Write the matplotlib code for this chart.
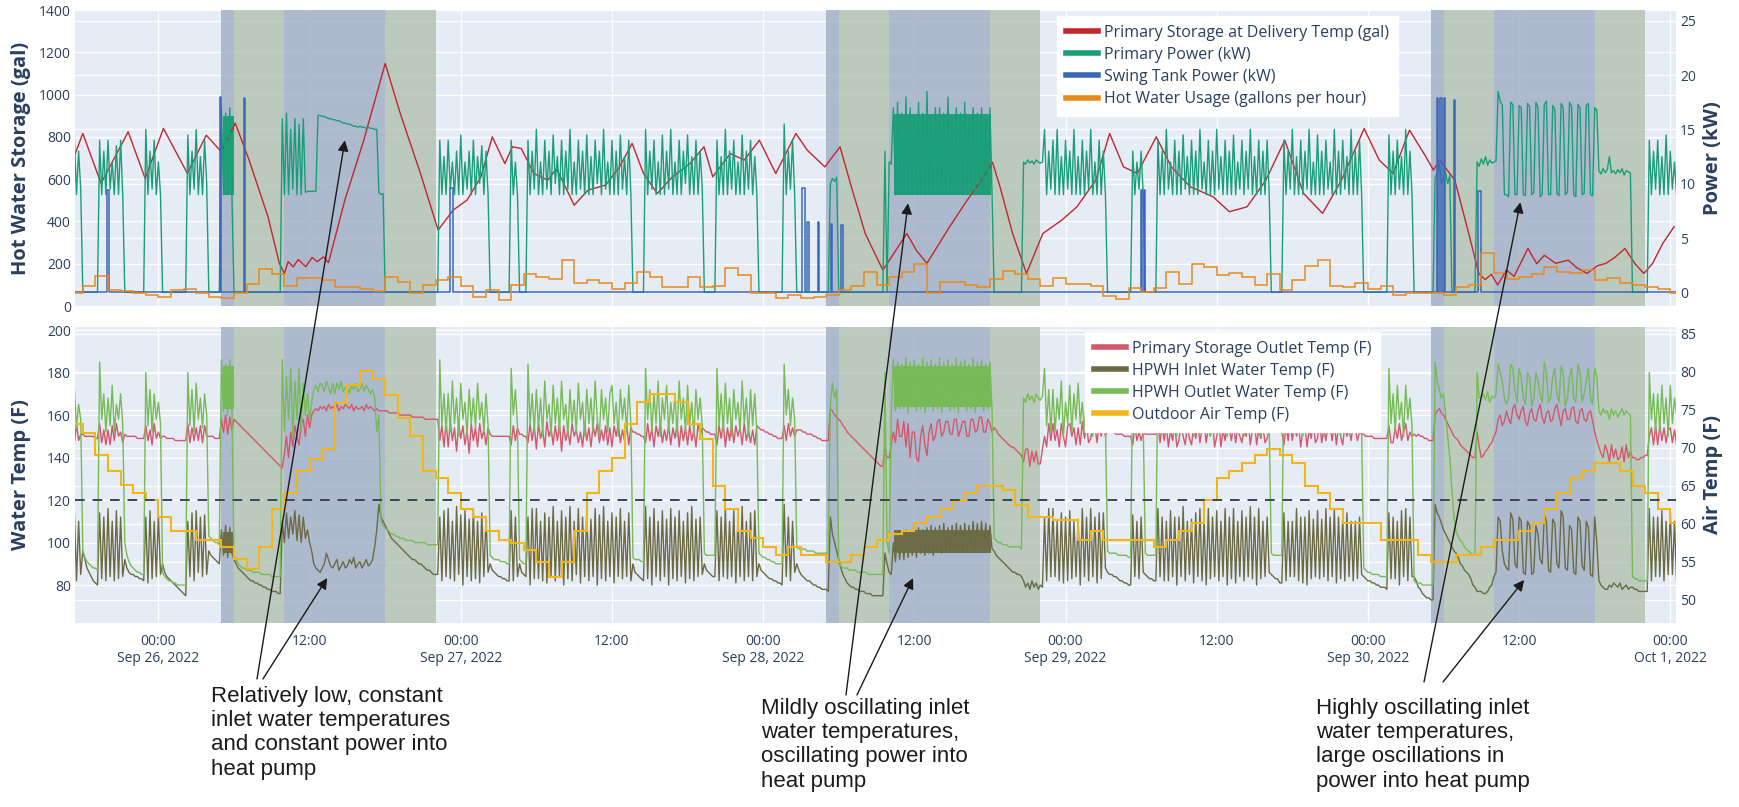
import numpy as np
import matplotlib
matplotlib.use("Agg")
import matplotlib.pyplot as plt
import matplotlib.dates as mdates
from matplotlib.lines import Line2D
from matplotlib.ticker import FuncFormatter
from matplotlib.transforms import blended_transform_factory
from datetime import datetime

START = datetime(2022, 9, 25, 17, 0)   # first sample of every series
STEP_MIN = 10                           # spacing of the 10-minute series

# ---------------- top panel ----------------
# primary storage at delivery temp (gal), read at irregular hours after START
storage_hours = [0.4, 1.0, 2.45, 4.6, 5.95, 7.4, 9.3, 10.8, 12.0, 13.1,
                 14.2, 15.7, 16.6, 17.0, 17.3, 17.7, 18.1, 18.7, 19.2, 19.6,
                 20.1, 20.5, 21.8, 23.3, 25.0, 26.2, 27.8, 29.2, 30.4, 31.5,
                 32.6, 33.5, 34.5, 35.1, 35.8, 36.8, 37.9, 38.6, 40.0, 41.1,
                 42.5, 43.6, 44.6, 45.5, 46.6, 47.8, 49.2, 50.3, 51.0, 52.4,
                 53.5, 54.7, 56.0, 57.6, 58.5, 59.9, 61.1, 62.0, 63.1, 64.5,
                 65.2, 66.4, 67.2, 68.0, 69.8, 71.2, 72.5, 73.2, 73.8, 74.8,
                 75.9, 77.2, 78.7, 79.9, 81.4, 82.5, 83.6, 84.7, 86.2, 87.4,
                 88.9, 90.7, 92.0, 93.4, 94.9, 96.4, 97.9, 99.4, 100.9, 102.7,
                 103.9, 105.0, 106.3, 107.6, 108.2, 108.7, 109.9, 111.0, 111.8, 112.3,
                 112.8, 113.3, 114.0, 114.6, 115.7, 116.4, 117.0, 117.9, 118.9, 119.6,
                 120.4, 121.2, 121.9, 122.6, 123.4, 124.2, 124.9, 125.6, 126.4, 127.3]
storage_gal = [721, 816, 580, 824, 603, 840, 627, 808, 729, 865,
               690, 422, 202, 154, 210, 185, 220, 186, 230, 210,
               232, 205, 501, 784, 1147, 910, 627, 359, 454, 501,
               611, 800, 674, 753, 745, 627, 595, 650, 477, 548,
               572, 658, 769, 627, 532, 611, 674, 753, 611, 721,
               690, 784, 627, 816, 737, 658, 753, 564, 343, 170,
               233, 343, 260, 202, 375, 501, 610, 680, 564, 343,
               154, 343, 406, 469, 595, 816, 658, 627, 800, 658,
               564, 517, 446, 469, 595, 784, 532, 438, 595, 839,
               690, 627, 832, 706, 643, 690, 595, 343, 154, 125,
               150, 100, 170, 140, 272, 200, 240, 202, 217, 180,
               154, 190, 202, 230, 272, 200, 154, 202, 296, 375]

# primary power (kW), every 10 minutes, one row = 3 hours
primary_kw = [
    12, 9, 14, 9, 13, 9.5, 0, 0, 0, 0, 0, 0, 0, 0, 14, 9, 13, 9,
    14, 9.5, 12, 9, 13.5, 9, 14, 9, 0, 0, 0, 0, 0, 0, 0, 0, 0, 0,
    15, 9, 13, 9.5, 14, 9, 12, 9, 0, 0, 0, 0, 0, 0, 0, 0, 0, 0,
    0, 0, 14.5, 9, 13, 9.5, 15, 9, 12.5, 9, 14, 10, 0, 0, 0, 0, 0, 0,
    17, 9, 16.5, 9, 17, 9, 0, 0, 0, 0, 0, 0, 0, 0, 0, 0, 0, 0,
    0, 0, 0, 0, 0, 0, 0, 0, 0, 0, 0, 16, 9, 16.5, 9, 15, 9.5, 16,
    9, 15.5, 9, 16, 9.2, 9.3, 9.3, 9.3, 9.3, 9.3, 16.3, 16.3, 16.2, 16.2, 16.1, 16.0, 16.0, 15.9,
    15.9, 15.8, 15.8, 15.7, 15.6, 15.6, 15.5, 15.5, 15.4, 15.3, 15.3, 15.2, 15.3, 15.2, 15.2, 15.1, 15.2, 15.1,
    15.1, 15.0, 15.0, 9.2, 9.0, 9.1, 0, 0, 0, 0, 0, 0, 0, 0, 0, 0, 0, 0,
    0, 0, 0, 0, 0, 0, 0, 0, 0, 0, 0, 0, 0, 0, 14, 9, 12.5, 9,
    14, 9.5, 12, 9, 13, 9, 14.5, 9, 12, 9.5, 13, 9, 14, 9, 12.5, 10, 13.5, 9,
    13, 9, 0, 0, 0, 0, 0, 0, 0, 0, 0, 0, 14, 9, 12, 9, 0, 0,
    0, 0, 14, 9, 13, 9.5, 15, 9, 12, 9, 14, 9.5, 13, 9, 14.5, 10, 12.5, 9,
    14, 9, 13, 9.5, 15, 9, 12, 9, 14, 9.5, 13, 9, 14.5, 9, 12.5, 9, 14, 10,
    13, 9, 15, 9.5, 12, 9, 14, 9, 13, 9, 14.5, 9.5, 12.5, 9, 14, 9, 0, 0,
    0, 0, 0, 0, 15, 9, 13, 9.5, 14, 9, 12, 9, 14.5, 9, 13, 9.5, 15, 9,
    12, 9, 14, 9, 13, 10, 14.5, 9, 12.5, 9, 14, 9, 13, 9.5, 0, 0, 0, 0,
    0, 0, 14, 9, 12.5, 9, 15, 9, 13, 9.5, 14, 9, 12, 9, 14.5, 9, 13, 9.5,
    14, 9, 12.5, 9, 0, 0, 0, 0, 0, 0, 0, 0, 0, 0, 0, 0, 15.5, 9,
    13, 9.5, 14, 9, 0, 0, 0, 0, 0, 0, 0, 0, 0, 0, 0, 0, 0, 0,
    0, 0, 10, 10.5, 10.2, 10.6, 0, 0, 0, 0, 0, 0, 0, 0, 0, 0, 0, 0,
    0, 0, 0, 0, 0, 0, 0, 0, 0, 0, 13, 0, 12, 11.8, 17, 9, 17.5, 9,
    16.5, 9, 18, 9, 17, 9, 16, 9, 17.5, 9, 16.5, 9, 18.5, 9, 16, 9, 17, 9,
    17, 9, 16.5, 9, 18, 9, 16, 9, 17, 9, 16.5, 9, 17.5, 9, 16, 9, 17, 9,
    16.5, 9, 17, 9, 16, 9, 17, 9, 0, 0, 0, 0, 0, 0, 0, 0, 0, 0,
    0, 0, 0, 0, 12, 11.8, 12.2, 11.9, 12.1, 11.8, 12.2, 12, 11.9, 12, 15, 9, 13, 9.5,
    14, 9, 15, 9, 12.5, 9, 14, 9.5, 13, 9, 15, 9, 12.5, 9, 14, 9, 13, 9.5,
    15, 9, 12, 9, 14, 9, 13, 9, 0, 0, 0, 0, 0, 0, 0, 0, 0, 0,
    0, 0, 13, 9, 12, 9.5, 13, 9, 0, 0, 0, 0, 0, 0, 14, 9, 13, 9,
    15, 9.5, 12, 9, 14, 9, 13, 9, 14.5, 9.5, 12.5, 9, 14, 9, 13, 9, 15, 9.5,
    12, 9, 14, 9, 13, 9, 15, 9.5, 12.5, 9, 14, 9, 13, 9, 14.5, 9, 12, 9.5,
    14, 9, 13, 9.5, 15, 9, 12.5, 9, 14, 9, 13, 9, 14, 9, 0, 0, 0, 0,
    0, 0, 14, 9, 13, 9.5, 15, 9, 12.5, 9, 14, 9, 13, 9.5, 15, 9, 12, 9,
    14.5, 9, 13, 9, 14, 9.5, 12, 9, 15, 9, 13, 9, 14, 9.5, 12.5, 9, 15, 9,
    13, 9, 14, 9, 0, 0, 0, 0, 0, 0, 0, 0, 0, 0, 0, 0, 14.5, 9,
    13, 9, 14, 9.5, 12.5, 9, 15, 9, 13, 9, 0, 0, 0, 0, 0, 0, 0, 0,
    0, 0, 10.5, 11, 12, 10, 10.5, 11, 10, 10.8, 0, 0, 0, 0, 0, 0, 0, 0,
    0, 0, 0, 0, 12, 11.6, 12.3, 11.8, 12.5, 11.7, 12.2, 11.9, 12, 12.1, 18.5, 17.6, 17.2, 9,
    9, 8.8, 17.5, 17.3, 9, 9, 17.2, 17, 9, 8.9, 17.4, 17.1, 9, 9.2, 17.5, 17, 8.8, 9,
    17.3, 17.6, 9, 9, 17.2, 16.9, 9.1, 8.9, 17.4, 17, 9, 9.2, 17.5, 17.1, 9, 8.8, 17.3, 17,
    9, 9.1, 17.2, 17.4, 9, 8.9, 17, 16.8, 11.2, 10.9, 11.4, 11, 11.3, 12.5, 11, 11.2, 10.9, 11.3,
    11, 11.4, 10.8, 11.2, 11.1, 11, 0, 0, 0, 0, 0, 0, 0, 0, 14, 9, 13, 9.5,
    14, 9, 12.5, 9, 14.5, 9, 13, 9.5, 12, 9, 14, 9,
]

# swing tank heater pulses: on hour, off hour, kW
swing_on = [2.9, 11.85, 13.8, 30.15, 58.1, 58.5, 59.35, 60.35, 61.2,
            85.0, 85.2, 108.5, 108.75, 109.05, 109.85, 111.7]
swing_off = [3.1, 11.95, 13.9, 30.4, 58.35, 58.6, 59.45, 60.45, 61.3,
             85.1, 85.3, 108.6, 108.85, 109.15, 109.95, 112.0]
swing_kw = [9.4, 18.0, 17.9, 9.6, 9.6, 6.5, 6.5, 6.3, 6.2,
            9.4, 9.4, 17.9, 17.9, 17.9, 17.7, 9.3]

# hot water usage (gallons per hour), hourly from START
usage_gph = [60, 94, 142, 76, 72, 62, 52, 44, 76, 79, 60, 44,
             39, 60, 104, 173, 151, 94, 134, 134, 123, 91, 91, 79,
             70, 139, 115, 60, 99, 123, 139, 94, 44, 76, 28, 99,
             151, 139, 126, 217, 107, 123, 110, 82, 107, 162, 135, 88,
             88, 139, 88, 94, 178, 146, 60, 60, 36, 52, 39, 44,
             52, 76, 94, 162, 99, 139, 162, 197, 60, 115, 112, 99,
             91, 126, 165, 150, 126, 94, 131, 104, 104, 94, 47, 33,
             87, 68, 87, 162, 102, 200, 186, 146, 154, 139, 99, 151,
             76, 123, 190, 217, 94, 88, 110, 79, 94, 52, 60, 60,
             62, 52, 91, 99, 249, 154, 129, 139, 151, 186, 162, 154,
             170, 123, 131, 107, 99, 88, 79, 60]

# ---------------- bottom panel ----------------
# primary storage outlet temp (F), every 10 minutes
outlet_f = [
    150, 155, 147, 156, 148, 151, 151, 150, 150, 150, 150, 150, 149, 149, 156, 147, 153, 146,
    153, 146, 155, 148, 156, 150, 152, 147, 151, 150, 150, 150, 150, 150, 149, 149, 149, 149,
    155, 148, 153, 146, 156, 149, 152, 149, 150, 150, 149, 149, 149, 149, 148, 148, 148, 148,
    148, 148, 156, 147, 154, 148, 154, 148, 155, 147, 155, 150, 150, 150, 150, 149, 149, 149,
    158, 152, 160, 151, 159, 153, 158, 157, 156, 155, 154, 153, 152, 151, 150, 149, 148, 147,
    146, 145, 144, 143, 142, 141, 140, 139, 138, 137, 136, 135, 142, 150, 140, 152, 145, 155,
    150, 146, 156, 158, 150, 160, 154, 160, 162, 163, 162, 164, 163, 164, 162, 165, 163, 164,
    163, 165, 162, 164, 163, 165, 164, 163, 165, 162, 164, 163, 163, 164, 162, 165, 163, 164,
    163, 162, 163, 162, 162, 162, 162, 162, 161, 161, 161, 161, 161, 160, 160, 160, 160, 160,
    160, 159, 159, 159, 159, 159, 159, 158, 158, 158, 158, 158, 158, 158, 148, 155, 145, 157,
    145, 157, 148, 154, 143, 156, 149, 155, 146, 153, 142, 156, 148, 154, 145, 156, 149, 153,
    146, 154, 151, 150, 150, 150, 150, 150, 150, 150, 150, 150, 146, 155, 148, 154, 151, 151,
    150, 150, 147, 156, 148, 155, 144, 156, 149, 153, 145, 157, 150, 154, 146, 155, 148, 156,
    143, 155, 148, 153, 146, 156, 150, 153, 147, 152, 145, 156, 148, 154, 145, 155, 150, 156,
    147, 153, 148, 155, 146, 154, 145, 155, 150, 156, 147, 153, 148, 155, 146, 154, 152, 152,
    151, 151, 150, 150, 147, 156, 148, 154, 145, 155, 150, 156, 147, 153, 148, 155, 146, 154,
    149, 156, 145, 155, 148, 154, 146, 155, 148, 153, 145, 156, 150, 154, 153, 152, 152, 151,
    151, 151, 146, 155, 149, 156, 145, 154, 148, 156, 147, 155, 150, 154, 146, 156, 148, 153,
    147, 153, 146, 155, 154, 153, 153, 152, 152, 151, 151, 150, 150, 149, 149, 149, 155, 148,
    156, 150, 154, 150, 153, 153, 153, 152, 152, 151, 151, 151, 150, 150, 149, 149, 148, 148,
    148, 148, 163, 162, 160, 159, 158, 157, 155, 154, 152, 151, 150, 149, 148, 147, 146, 145,
    144, 143, 142, 141, 140, 139, 138, 137, 136, 136, 145, 140, 140, 146, 152, 147, 158, 150,
    150, 157, 145, 156, 140, 152, 152, 140, 138, 150, 155, 146, 141, 152, 156, 148, 150, 157,
    158, 150, 152, 157, 157, 151, 151, 158, 158, 150, 153, 157, 157, 150, 150, 158, 158, 152,
    153, 159, 159, 152, 152, 158, 156, 152, 154, 153, 151, 150, 149, 148, 147, 146, 145, 145,
    144, 143, 142, 141, 138, 144, 144, 136, 143, 138, 143, 137, 137, 144, 150, 145, 156, 148,
    156, 148, 153, 145, 156, 150, 145, 155, 156, 150, 154, 146, 154, 146, 157, 149, 155, 147,
    149, 155, 155, 147, 156, 150, 156, 150, 153, 152, 152, 152, 151, 151, 151, 151, 150, 150,
    150, 150, 146, 155, 148, 152, 148, 152, 151, 151, 151, 151, 151, 151, 156, 147, 155, 148,
    155, 145, 153, 148, 156, 145, 148, 156, 150, 146, 155, 149, 146, 155, 149, 156, 147, 154,
    156, 147, 154, 150, 157, 145, 150, 157, 145, 153, 148, 156, 153, 148, 156, 147, 154, 150,
    147, 154, 150, 157, 146, 153, 157, 146, 153, 149, 155, 147, 149, 153, 153, 152, 152, 152,
    152, 152, 146, 155, 148, 156, 148, 156, 150, 155, 145, 153, 155, 145, 153, 149, 157, 147,
    149, 157, 147, 154, 148, 156, 154, 148, 156, 146, 155, 150, 146, 155, 150, 153, 148, 156,
    153, 148, 152, 151, 151, 150, 150, 150, 150, 149, 149, 149, 149, 149, 149, 149, 155, 147,
    147, 154, 149, 156, 148, 152, 156, 148, 152, 150, 151, 150, 151, 150, 150, 149, 149, 148,
    148, 148, 160, 162, 163, 161, 160, 158, 156, 154, 152, 150, 149, 148, 146, 145, 144, 143,
    142, 141, 140, 140, 152, 145, 140, 141, 143, 144, 146, 147, 150, 152, 158, 160, 155, 157,
    162, 158, 156, 163, 165, 160, 158, 162, 164, 157, 155, 161, 163, 158, 157, 162, 165, 159,
    156, 161, 162, 157, 158, 163, 165, 160, 155, 162, 163, 158, 158, 163, 164, 157, 156, 162,
    163, 158, 157, 161, 162, 157, 152, 148, 145, 142, 140, 146, 143, 138, 146, 140, 144, 139,
    140, 145, 138, 146, 140, 143, 140, 140, 139, 139, 140, 140, 141, 141, 150, 154, 146, 155,
    146, 155, 148, 154, 147, 153, 154, 147, 153, 146, 155, 150,
]

# HPWH inlet water temp (F), every 10 minutes
inlet_f = [
    108, 84, 114, 82, 110, 85, 96, 92, 88, 86, 84, 82, 81, 80, 114, 83, 112, 82,
    116, 84, 110, 82, 115, 83, 112, 84, 92, 88, 86, 85, 85, 84, 84, 83, 83, 82,
    112, 81, 115, 83, 110, 84, 113, 85, 90, 86, 84, 83, 82, 81, 80, 79, 78, 77,
    76, 75, 110, 84, 114, 82, 115, 86, 112, 84, 113, 85, 96, 94, 93, 92, 91, 90,
    106, 94, 108, 93, 107, 95, 92, 90, 88, 87, 86, 85, 84, 83, 82, 82, 81, 81,
    80, 80, 79, 79, 78, 78, 77, 77, 77, 76, 76, 110, 100, 114, 102, 112, 104, 115,
    101, 113, 100, 112, 102, 106, 100, 96, 90, 88, 87, 86, 88, 90, 95, 92, 89, 88,
    90, 92, 87, 89, 91, 88, 89, 92, 90, 93, 88, 90, 91, 88, 90, 92, 89, 90,
    92, 98, 106, 118, 112, 110, 108, 106, 104, 102, 101, 100, 99, 98, 97, 96, 95, 94,
    93, 92, 92, 91, 90, 90, 89, 88, 87, 87, 86, 85, 85, 85, 112, 82, 115, 84,
    116, 83, 110, 82, 117, 85, 113, 80, 115, 84, 111, 82, 116, 83, 110, 81, 114, 84,
    112, 86, 90, 87, 86, 85, 84, 84, 83, 83, 82, 82, 115, 82, 112, 84, 90, 86,
    85, 84, 112, 80, 116, 83, 116, 83, 110, 82, 114, 81, 112, 84, 117, 82, 110, 84,
    115, 80, 112, 83, 117, 82, 110, 85, 116, 81, 112, 84, 115, 82, 111, 84, 116, 80,
    113, 83, 117, 82, 110, 84, 114, 81, 112, 84, 116, 83, 110, 84, 114, 82, 90, 86,
    85, 84, 83, 82, 117, 83, 112, 80, 116, 84, 110, 82, 115, 84, 111, 80, 116, 83,
    112, 82, 115, 84, 110, 81, 114, 83, 117, 82, 111, 84, 112, 85, 90, 87, 86, 85,
    84, 84, 115, 82, 112, 84, 116, 83, 110, 84, 115, 81, 112, 84, 117, 82, 110, 84,
    114, 82, 115, 84, 90, 87, 86, 85, 84, 83, 83, 82, 82, 81, 81, 80, 118, 84,
    112, 82, 110, 86, 90, 87, 85, 84, 83, 82, 82, 81, 80, 80, 79, 79, 78, 78,
    78, 77, 112, 104, 100, 96, 92, 88, 85, 83, 81, 80, 79, 79, 78, 78, 77, 77,
    77, 76, 76, 76, 75, 75, 75, 75, 75, 75, 95, 90, 86, 85, 100, 91, 104, 92,
    104, 92, 106, 93, 105, 94, 106, 93, 107, 95, 106, 94, 107, 95, 108, 94, 107, 96,
    108, 95, 109, 96, 107, 97, 108, 96, 109, 97, 108, 96, 109, 97, 108, 98, 110, 97,
    109, 98, 110, 97, 109, 98, 108, 97, 96, 94, 93, 92, 91, 90, 89, 88, 87, 86,
    86, 85, 85, 84, 82, 79, 81, 78, 82, 79, 81, 78, 80, 79, 112, 82, 116, 84,
    116, 84, 110, 82, 114, 81, 112, 82, 115, 83, 110, 84, 111, 80, 116, 84, 112, 82,
    116, 84, 112, 81, 114, 83, 114, 88, 86, 85, 85, 84, 84, 83, 82, 82, 81, 81,
    80, 80, 113, 84, 110, 83, 112, 86, 85, 84, 83, 83, 82, 82, 116, 84, 112, 82,
    110, 82, 115, 84, 112, 80, 112, 84, 117, 82, 110, 85, 111, 81, 114, 84, 116, 82,
    110, 80, 116, 83, 112, 84, 115, 82, 110, 84, 116, 80, 112, 83, 116, 81, 110, 84,
    115, 82, 112, 84, 117, 83, 112, 80, 116, 83, 110, 84, 112, 86, 85, 84, 83, 83,
    81, 81, 114, 82, 110, 84, 110, 84, 116, 82, 112, 81, 112, 80, 115, 83, 111, 84,
    115, 83, 111, 84, 116, 82, 112, 84, 116, 81, 112, 83, 112, 82, 114, 84, 110, 82,
    110, 83, 112, 85, 84, 83, 82, 82, 81, 81, 80, 80, 79, 79, 79, 78, 114, 83,
    112, 83, 110, 80, 115, 84, 116, 82, 112, 84, 84, 82, 79, 78, 76, 75, 74, 74,
    73, 73, 118, 114, 112, 109, 106, 104, 102, 100, 98, 96, 95, 93, 90, 89, 87, 86,
    85, 83, 80, 79, 77, 77, 77, 76, 76, 77, 79, 80, 84, 86, 112, 110, 96, 90,
    88, 87, 114, 111, 90, 88, 112, 110, 86, 85, 110, 108, 85, 86, 108, 104, 92, 90,
    113, 110, 87, 86, 111, 109, 90, 88, 115, 112, 88, 87, 108, 106, 86, 85, 112, 110,
    89, 87, 110, 107, 85, 84, 112, 100, 82, 80, 79, 78, 78, 80, 79, 81, 80, 79,
    81, 78, 79, 80, 78, 79, 79, 78, 78, 77, 77, 77, 77, 77, 116, 82, 112, 84,
    112, 84, 115, 82, 110, 85, 115, 85, 110, 82, 114, 83,
]

# HPWH outlet water temp (F), every 10 minutes
hpwh_out_f = [
    168, 156, 172, 154, 165, 158, 96, 93, 91, 90, 89, 88, 88, 87, 185, 158, 170, 152,
    168, 155, 174, 152, 165, 158, 170, 156, 100, 94, 91, 89, 88, 87, 86, 86, 85, 85,
    180, 155, 172, 152, 170, 158, 166, 156, 86, 84, 83, 82, 82, 81, 81, 80, 80, 80,
    80, 80, 180, 155, 172, 152, 175, 158, 168, 154, 170, 160, 103, 102, 101, 100, 100, 99,
    186, 162, 184, 160, 186, 163, 94, 92, 90, 89, 88, 88, 87, 87, 87, 86, 86, 86,
    86, 85, 85, 85, 85, 85, 84, 84, 84, 84, 84, 186, 152, 178, 158, 182, 150, 176,
    158, 182, 152, 175, 160, 170, 158, 166, 172, 174, 171, 175, 174, 171, 176, 173, 170, 175,
    170, 175, 172, 176, 171, 173, 173, 170, 174, 172, 175, 171, 172, 175, 171, 174, 172, 170,
    172, 168, 152, 160, 110, 108, 107, 106, 105, 104, 104, 103, 103, 102, 102, 102, 101, 101,
    101, 101, 100, 100, 100, 100, 100, 100, 99, 99, 99, 99, 99, 99, 186, 155, 170, 152,
    170, 152, 176, 156, 168, 150, 175, 158, 166, 150, 172, 156, 168, 154, 175, 158, 166, 152,
    170, 155, 94, 93, 92, 92, 92, 91, 91, 91, 90, 90, 182, 160, 172, 155, 92, 91,
    90, 90, 184, 155, 170, 152, 172, 154, 168, 150, 176, 158, 165, 150, 174, 156, 168, 152,
    176, 158, 165, 150, 172, 156, 167, 152, 175, 158, 166, 150, 172, 156, 168, 152, 176, 158,
    150, 172, 158, 168, 152, 170, 174, 156, 166, 150, 172, 158, 168, 152, 174, 156, 93, 92,
    92, 92, 91, 91, 182, 158, 172, 152, 170, 156, 176, 150, 168, 158, 174, 152, 166, 156,
    170, 150, 176, 158, 168, 152, 174, 156, 166, 150, 172, 158, 168, 155, 95, 94, 94, 94,
    94, 94, 182, 155, 170, 152, 175, 156, 168, 150, 172, 158, 166, 152, 176, 156, 168, 150,
    172, 155, 170, 152, 95, 94, 93, 93, 92, 92, 91, 91, 90, 90, 90, 90, 184, 160,
    172, 155, 168, 158, 98, 97, 97, 97, 97, 96, 96, 96, 96, 95, 95, 95, 95, 95,
    95, 95, 165, 175, 168, 172, 90, 89, 88, 88, 88, 87, 87, 87, 87, 86, 86, 86,
    86, 86, 85, 85, 85, 85, 85, 85, 85, 85, 180, 100, 95, 160, 186, 162, 185, 163,
    184, 163, 187, 161, 185, 164, 186, 162, 184, 163, 187, 161, 185, 164, 186, 162, 184, 163,
    187, 161, 185, 164, 186, 162, 184, 163, 187, 161, 185, 164, 186, 162, 184, 163, 187, 161,
    185, 164, 186, 162, 184, 163, 185, 162, 102, 101, 100, 100, 99, 99, 99, 98, 98, 98,
    98, 98, 98, 97, 168, 166, 170, 167, 169, 166, 170, 168, 167, 169, 182, 155, 172, 152,
    172, 152, 168, 158, 176, 150, 166, 156, 174, 152, 170, 158, 175, 156, 166, 152, 172, 158,
    168, 150, 176, 158, 166, 152, 175, 156, 96, 95, 95, 95, 95, 94, 94, 94, 94, 94,
    93, 93, 180, 160, 170, 156, 170, 155, 95, 94, 94, 94, 94, 94, 184, 155, 170, 152,
    170, 152, 174, 156, 168, 150, 176, 158, 166, 152, 172, 156, 168, 150, 175, 158, 166, 152,
    174, 156, 170, 150, 176, 158, 168, 152, 175, 156, 166, 150, 172, 158, 168, 152, 174, 156,
    166, 150, 176, 158, 168, 152, 175, 156, 170, 150, 176, 158, 168, 155, 95, 94, 94, 94,
    94, 94, 182, 156, 172, 152, 172, 152, 168, 158, 176, 150, 166, 156, 174, 152, 170, 158,
    175, 154, 167, 150, 172, 156, 168, 152, 176, 158, 166, 150, 174, 156, 168, 152, 175, 158,
    158, 172, 170, 154, 88, 87, 86, 86, 85, 85, 85, 85, 84, 84, 84, 84, 182, 156,
    170, 152, 174, 158, 166, 150, 174, 158, 168, 155, 82, 81, 81, 81, 80, 80, 80, 80,
    80, 80, 185, 176, 172, 168, 170, 160, 150, 140, 125, 112, 105, 103, 101, 100, 98, 97,
    96, 95, 94, 94, 180, 168, 168, 170, 167, 171, 166, 169, 168, 170, 184, 180, 176, 168,
    165, 168, 184, 182, 172, 166, 182, 178, 168, 165, 180, 178, 164, 168, 180, 176, 170, 166,
    185, 180, 166, 168, 178, 182, 170, 166, 183, 180, 164, 168, 178, 182, 168, 166, 184, 180,
    166, 170, 176, 182, 168, 165, 182, 178, 162, 160, 163, 161, 162, 158, 163, 160, 162, 159,
    161, 163, 160, 162, 161, 160, 84, 83, 83, 82, 82, 82, 82, 82, 180, 158, 170, 152,
    170, 152, 174, 156, 168, 150, 174, 156, 168, 160, 172, 158,
]

# outdoor air temp (F), hourly from START
air_f = [73.1, 71.9, 69.1, 67.0, 65.1, 64.1, 63.1, 60.9, 59.0, 59.0, 57.9, 57.9,
         57.0, 55.4, 54.0, 57.0, 62.0, 64.0, 66.9, 68.5, 69.9, 75.9, 78.3, 80.1,
         79.1, 77.0, 73.9, 71.5, 66.9, 66.0, 64.0, 62.0, 60.9, 59.0, 57.9, 57.5,
         56.5, 55.0, 53.0, 55.0, 59.0, 64.0, 66.9, 68.7, 73.1, 76.1, 77.1, 77.1,
         76.1, 73.1, 71.1, 65.0, 62.0, 59.1, 58.1, 57.0, 55.9, 57.0, 55.9, 55.9,
         55.0, 55.0, 55.9, 57.0, 57.9, 58.7, 59.1, 60.1, 60.9, 62.0, 63.0, 64.0,
         65.0, 65.0, 64.5, 62.5, 60.9, 60.9, 60.5, 60.5, 57.9, 59.1, 57.9, 57.9,
         57.9, 57.9, 57.0, 57.9, 59.1, 60.1, 63.1, 66.0, 67.0, 68.0, 69.1, 69.9,
         69.1, 68.0, 65.0, 64.0, 62.0, 60.1, 60.1, 60.1, 57.9, 57.9, 57.9, 55.9,
         55.0, 55.0, 55.9, 55.9, 57.0, 57.9, 57.9, 59.1, 60.1, 62.0, 64.0, 66.0,
         67.0, 68.0, 68.0, 67.0, 65.0, 64.0, 62.0, 60.1]

SETPOINT_F = 120

# windows where the sensors cycle faster than the 10-min samples show:
# filled between the read low / high values under the sampled line
dense_from = [12.1, 65.4]
dense_to = [13.0, 73.1]
dense_kw_lo = [9.0, 9.0]
dense_kw_hi = [16.2, 16.4]
dense_hpwh_lo = [163, 164]
dense_hpwh_hi = [183, 183]
dense_inlet_lo = [95, 95]
dense_inlet_hi = [105, 106]

# load-shift windows (hour of day) on the three test days
shade_days = [datetime(2022, 9, 26), datetime(2022, 9, 28), datetime(2022, 9, 30)]
shade_from = [5, 6, 10, 18]
shade_to = [6, 10, 18, 22]
shade_kind = ["dark", "green", "dark", "green"]

notes = ["Relatively low, constant\ninlet water temperatures\nand constant power into\nheat pump",
         "Mildly oscillating inlet\nwater temperatures,\noscillating power into\nheat pump",
         "Highly oscillating inlet\nwater temperatures,\nlarge oscillations in\npower into heat pump"]
# arrow tips: hour after START, value, which axis
arrow_hours = [21.8, 20.4, 66.5, 66.9, 115.1, 115.4]
arrow_vals = [14.0, 83.3, 8.2, 83.3, 8.3, 82.4]
arrow_axis = ["kw", "f", "kw", "f", "kw", "f"]

# ---------------- drawing ----------------
NAVY = "#2a3f5f"
BG = "#E5ECF6"
RED, GREEN, BLUE, ORANGE = "#C1272D", "#1A9E78", "#3C67B5", "#E8891C"
PINK, OLIVE, LGREEN, YELLOW = "#D3586B", "#6B6A44", "#76BB55", "#F2B619"
SHADE = {"dark": "#A4B2C6", "green": "#B5C4B4"}

plt.rcParams["font.family"] = ["Open Sans", "DejaVu Sans"]

x0 = mdates.date2num(START)


def to_x(hours):
    return x0 + np.asarray(hours, dtype=float) / 24.0


def slot_x(series):
    return to_x(np.arange(len(series)) * STEP_MIN / 60.0)


def dense_bands(ax, lo, hi, color, transform=None):
    kw = {} if transform is None else {"transform": transform}
    for a, b, l, h in zip(dense_from, dense_to, lo, hi):
        ax.fill_between(to_x([a, b]), [l, l], [h, h], color=color, lw=0,
                        alpha=0.95, zorder=1.9, **kw)


fig = plt.figure(figsize=(17.4, 8.07), dpi=100)
axP = fig.add_axes([0.0431, 0.6208, 0.9201, 0.3668])
axPr = axP.twinx()
axT = fig.add_axes([0.0431, 0.2284, 0.9201, 0.3668])
axTr = axT.twinx()

axP.set_ylim(0, 1400)
axPr.set_ylim(-1.26, 26)
axT.set_ylim(62.3, 201.6)
axTr.set_ylim(46.97, 85.96)
axP.set_yticks(range(0, 1401, 200))
axPr.set_yticks(range(0, 26, 5))
axT.set_yticks(range(80, 201, 20))
axTr.set_yticks(range(50, 86, 5))


def date_label(v, pos):
    d = mdates.num2date(v)
    if d.hour == 0:
        return f"00:00\n{d:%b} {d.day}, {d.year}"
    return d.strftime("%H:%M")


for ax, axr in [(axP, axPr), (axT, axTr)]:
    ax.set_facecolor(BG)
    ax.set_axisbelow(True)
    for sp in list(ax.spines.values()) + list(axr.spines.values()):
        sp.set_visible(False)
    ax.set_xlim(to_x(0.38), to_x(127.45))
    ax.xaxis.set_major_locator(mdates.HourLocator(byhour=[0, 12]))
    ax.xaxis.set_major_formatter(FuncFormatter(date_label))
    ax.grid(True, color="white", lw=1.0)
    ax.tick_params(length=0, colors=NAVY, labelsize=10, pad=3)
    axr.tick_params(length=0, colors=NAVY, labelsize=10, pad=3)
    # right-axis grid lines, drawn under the traces
    tr = blended_transform_factory(ax.transAxes, axr.transData)
    lo, hi = axr.get_ylim()
    for v in axr.get_yticks():
        if lo <= v <= hi:
            ax.plot([0, 1], [v, v], transform=tr, color="white", lw=1.0, zorder=0.6)
    for day in shade_days:
        base = (day - START).total_seconds() / 3600.0
        for a, b, k in zip(shade_from, shade_to, shade_kind):
            ax.axvspan(to_x(base + a), to_x(base + b), color=SHADE[k], alpha=0.85, lw=0, zorder=1)

axP.tick_params(axis="x", labelbottom=False)
axT.tick_params(axis="x", pad=8)

LW = 1.0
# top panel traces (kW traces placed on the right scale)
axP.plot(to_x(storage_hours), storage_gal, color=RED, lw=LW, zorder=2)
dense_bands(axP, dense_kw_lo, dense_kw_hi, GREEN, transform=axPr.transData)
axP.plot(slot_x(primary_kw), primary_kw, color=GREEN, lw=LW, zorder=2, transform=axPr.transData)
bx, by = [0.0], [0.0]
for s, e, k in zip(swing_on, swing_off, swing_kw):
    bx += [s, s, e, e]
    by += [0, k, k, 0]
bx.append(128.0)
by.append(0)
axP.plot(to_x(bx), by, color=BLUE, lw=1.1, zorder=2.2, transform=axPr.transData)
axP.stairs(usage_gph, to_x(np.arange(len(usage_gph) + 1)), baseline=None,
           color=ORANGE, lw=1.1, zorder=2.3)

# bottom panel traces
axT.plot(slot_x(outlet_f), outlet_f, color=PINK, lw=LW, zorder=2)
dense_bands(axT, dense_inlet_lo, dense_inlet_hi, OLIVE)
axT.plot(slot_x(inlet_f), inlet_f, color=OLIVE, lw=LW, zorder=2.1)
dense_bands(axT, dense_hpwh_lo, dense_hpwh_hi, LGREEN)
axT.plot(slot_x(hpwh_out_f), hpwh_out_f, color=LGREEN, lw=LW, zorder=2.2)
axT.stairs(air_f, to_x(np.arange(len(air_f) + 1)), baseline=None, color=YELLOW,
           lw=1.5, zorder=2.4, transform=axTr.transData)
axT.axhline(SETPOINT_F, color="#3b4559", lw=1.4, ls=(0, (5, 4)), zorder=5)

# axis titles
title_kw = dict(fontsize=14.5, fontweight="bold", color=NAVY)
axP.set_ylabel("Hot Water Storage (gal)", **title_kw)
axPr.set_ylabel("Power (kW)", rotation=90, **title_kw)
axT.set_ylabel("Water Temp (F)", **title_kw)
axTr.set_ylabel("Air Temp (F)", rotation=90, **title_kw)
for a in (axP, axT):
    a.yaxis.set_label_coords(-0.034, 0.5)
for a in (axPr, axTr):
    a.yaxis.set_label_coords(1.023, 0.5)
for a in (axP, axPr, axT, axTr):
    a.yaxis.label.set(va="center", ha="center")

# legends
leg_kw = dict(loc="upper left", frameon=True, fancybox=False, edgecolor="white",
              framealpha=1, fontsize=11.5, handlelength=2.0, handletextpad=0.4,
              labelspacing=0.38, borderpad=0.55, borderaxespad=0, labelcolor=NAVY)
fig.legend([Line2D([], [], color=c, lw=4) for c in (RED, GREEN, BLUE, ORANGE)],
           ["Primary Storage at Delivery Temp (gal)", "Primary Power (kW)",
            "Swing Tank Power (kW)", "Hot Water Usage (gallons per hour)"],
           bbox_to_anchor=(0.6075, 0.980), **leg_kw)
fig.legend([Line2D([], [], color=c, lw=4) for c in (PINK, OLIVE, LGREEN, YELLOW)],
           ["Primary Storage Outlet Temp (F)", "HPWH Inlet Water Temp (F)",
            "HPWH Outlet Water Temp (F)", "Outdoor Air Temp (F)"],
           bbox_to_anchor=(0.6236, 0.5886), **leg_kw)

# notes and arrows
note_pos = [(0.1213, 0.150), (0.4374, 0.135), (0.7563, 0.135)]
for txt, (nx, ny) in zip(notes, note_pos):
    fig.text(nx, ny, txt, ha="left", va="top", fontsize=16, linespacing=1.2,
             color="#1b1b1b", family=["Liberation Sans", "DejaVu Sans"])

arrow_tails = [(0.1477, 0.1586), (0.1511, 0.1586), (0.4862, 0.1388),
               (0.4925, 0.1388), (0.8184, 0.1549), (0.8293, 0.1549)]
for hh, vv, which, tail in zip(arrow_hours, arrow_vals, arrow_axis, arrow_tails):
    trans = axPr.transData if which == "kw" else axT.transData
    axTr.annotate("", xy=(to_x(hh), vv), xycoords=trans, xytext=tail,
                  textcoords="figure fraction", annotation_clip=False,
                  arrowprops=dict(arrowstyle="-|>", color="#1b1b1b", lw=1.0,
                                  mutation_scale=16, shrinkA=0, shrinkB=0))

fig.savefig("out.png", dpi=100)
